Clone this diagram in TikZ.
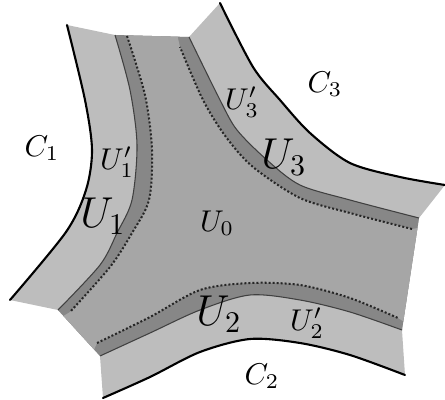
\documentclass[tikz,border=0pt]{standalone}
\usepackage{amsmath}
\usepackage{tikz}

\definecolor{outergray}{gray}{0.74}
\definecolor{coregray}{gray}{0.65}
\definecolor{stripgray}{gray}{0.53}

\tikzset{
  % boundary curves, all taken in the same turning sense
  bndone/.style={insert path={-- plot[smooth] coordinates {(67,25) (85,100) (92,150) (86,190) (66,232) (10,300)}}},
  bndtwo/.style={insert path={-- plot[smooth] coordinates {(103,398) (150,377) (200,352) (250,339) (300,343) (350,355) (405,375)}}},
  bndthree/.style={insert path={-- plot[smooth] coordinates {(445,185) (400,177) (350,163) (310,133) (280,100) (253,67) (220,3)}}},
  % inner (thin) curves
  innone/.style={insert path={-- plot[smooth] coordinates {(115,35) (130,90) (137,145) (132,200) (117,233) (100,265) (58,310)}}},
  inntwo/.style={insert path={-- plot[smooth] coordinates {(100,356) (150,333) (200,310) (250,295) (300,300) (350,312) (402,330)}}},
  innthree/.style={insert path={-- plot[smooth] coordinates {(419,218) (350,200) (300,185) (267,160) (237,130) (220,100) (189,37)}}},
  % dotted curves
  dotone/.style={insert path={-- plot[smooth] coordinates {(127,36) (145,95) (152,150) (149,200) (132,233) (110,267) (70,312)}}},
  dottwo/.style={insert path={-- plot[smooth] coordinates {(97,343) (150,317) (200,290) (250,283) (300,285) (350,298) (398,318)}}},
  dotthree/.style={insert path={-- plot[smooth] coordinates {(412,229) (350,213) (300,198) (253,167) (226,137) (203,100) (180,47)}}}
}

\begin{document}
\begin{tikzpicture}[x=0.333pt, y=-0.333pt,
  bound/.style={line width=0.7pt, line cap=round},
  inner/.style={line width=0.35pt, black!75},
  dots/.style={line width=0.67pt, black!85, dash pattern=on 0.67pt off 0.67pt},
  small/.style={font=\normalsize},
  big/.style={font=\Large}]
  \useasboundingbox (0,0) rectangle (445,400);
  % outer light region
  \fill[outergray] (67,25) [bndone] -- (58,310) -- (100,356) [bndtwo] -- (402,330)
    -- (419,218) [bndthree] -- (189,37) -- (115,35) -- cycle;
  % strips
  \fill[stripgray] (115,35) [innone] [inntwo] [innthree] -- cycle;
  % core
  \begin{scope}
    \clip (115,35) [innone] [inntwo] [innthree] -- cycle;
    \fill[coregray] (127,36) [dotone] -- (40,330) -- (85,370) [dottwo] -- (425,335)
      -- (435,225) [dotthree] -- (175,25) -- (125,25) -- cycle;
  \end{scope}
  % curves
  \draw[bound] (67,25) [bndone];
  \draw[bound] (103,398) [bndtwo];
  \draw[bound] (445,185) [bndthree];
  \draw[inner] (115,35) [innone];
  \draw[inner] (100,356) [inntwo];
  \draw[inner] (419,218) [innthree];
  \draw[dots] (127,36) [dotone];
  \draw[dots] (97,343) [dottwo];
  \draw[dots] (412,229) [dotthree];
  % labels
  \node[small] (c1) at (42,148) {$C_1$};
  \node[small] (c2) at (262,376) {$C_2$};
  \node[small] (c3) at (325,84) {$C_3$};
  \node[small] (u0) at (217,223) {$U_0$};
  \node[small] (u1p) at (117,162) {$U_1'$};
  \node[small] (u2p) at (307,323) {$U_2'$};
  \node[small] (u3p) at (242,102) {$U_3'$};
  \node[big] (u1) at (103,216) {$U_1$};
  \node[big] (u2) at (219,314) {$U_2$};
  \node[big] (u3) at (284,157) {$U_3$};
\end{tikzpicture}
\end{document}
